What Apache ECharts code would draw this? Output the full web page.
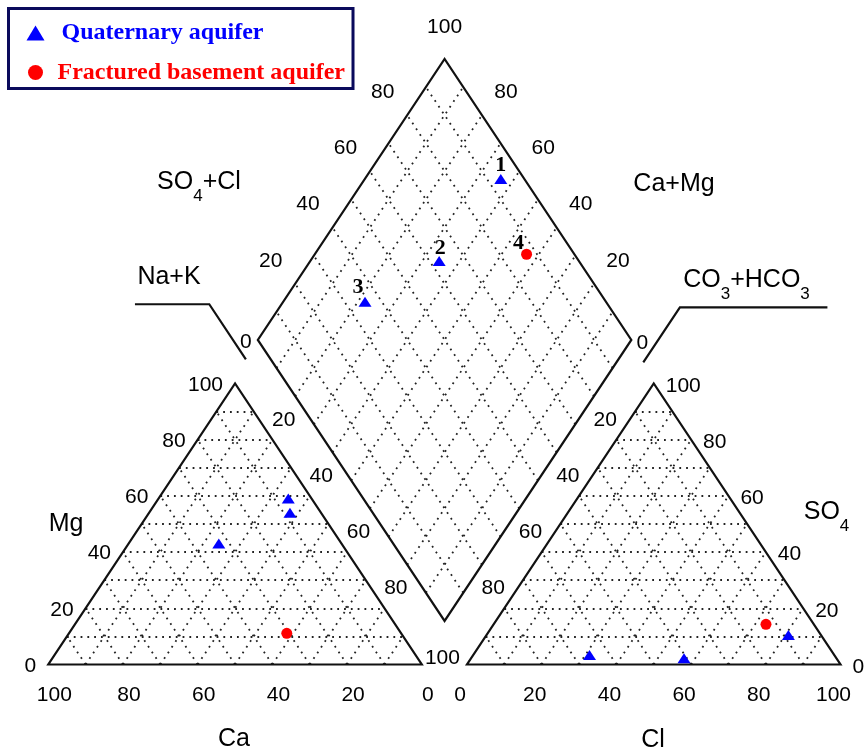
<!DOCTYPE html>
<html>
<head>
<meta charset="utf-8">
<script src="https://cdn.jsdelivr.net/npm/echarts@6/dist/echarts.min.js"></script>
<style>
html, body { margin: 0; padding: 0; background: #fff; }
#main { width: 864px; height: 753px; }
</style>
</head>
<body>
<div id="main"></div>
<script>
// 数据 (%)
var groupNames = ['Quaternary aquifer', 'Fractured basement aquifer'];

// Quaternary aquifer, samples 1-3
var quatIds   = ['1', '2', '3'];
var quatCa    = [8.3, 6.2, 32.8];
var quatMg    = [54.0, 59.1, 43.1];
var quatCl    = [80.8, 57.0, 31.1];
var quatSO4   = [10.5, 2.2, 3.4];
var quatCaMg  = [63.6, 65.5, 78.1];
var quatSO4Cl = [93.7, 62.6, 35.5];

// Fractured basement aquifer, sample 4
var fracIds   = ['4'];
var fracCa    = [30.6];
var fracMg    = [11.1];
var fracCl    = [72.9];
var fracSO4   = [14.3];
var fracCaMg  = [43.3];
var fracSO4Cl = [87.2];

var tickValues = [0, 20, 40, 60, 80, 100];
var gridValues = [10, 20, 30, 40, 50, 60, 70, 80, 90];

// 布局 (units: triangle side = 100)
var PX_X0 = 48.3, PX_X = 3.735, PX_Y0 = 664.5, PX_Y = 2.81;
var RIGHT_X = 112.1;              // anion triangle offset
var DIA_X = 106.1, DIA_Y = 15.5;  // diamond bottom vertex
var quatLabelOffset = [[0, -14], [1, -13], [-7, -14]];
var fracLabelOffset = [[-8, -11]];

function cationXY(ca, mg) { return [100 - ca - mg / 2, mg]; }
function anionXY(cl, so4) { return [RIGHT_X + cl + so4 / 2, so4]; }
function diamondXY(camg, so4cl) { return [DIA_X + (so4cl - camg) / 2, DIA_Y + so4cl + camg]; }
function mid(a, b) { return [(a[0] + b[0]) / 2, (a[1] + b[1]) / 2]; }

// 网格虚线
var dotted = [];
gridValues.forEach(function (g) {
    dotted.push({coords: [cationXY(100 - g, g), cationXY(0, g)]});
    dotted.push({coords: [cationXY(g, 0), cationXY(g, 100 - g)]});
    dotted.push({coords: [cationXY(100 - g, 0), cationXY(0, 100 - g)]});
    dotted.push({coords: [anionXY(0, g), anionXY(100 - g, g)]});
    dotted.push({coords: [anionXY(g, 0), anionXY(g, 100 - g)]});
    dotted.push({coords: [anionXY(100 - g, 0), anionXY(0, 100 - g)]});
    dotted.push({coords: [diamondXY(g, 0), diamondXY(g, 100)]});
    dotted.push({coords: [diamondXY(0, g), diamondXY(100, g)]});
});

// 外框
var outlines = [
    {coords: [cationXY(50, 0), cationXY(0, 0), cationXY(0, 100), cationXY(100, 0), cationXY(50, 0)]},
    {coords: [anionXY(50, 0), anionXY(100, 0), anionXY(0, 100), anionXY(0, 0), anionXY(50, 0)]},
    {coords: [diamondXY(50, 0), diamondXY(100, 0), diamondXY(100, 100), diamondXY(0, 100), diamondXY(0, 0), diamondXY(50, 0)]},
    {coords: [[23.2, 128.2], [43.1, 128.2], [52.9, 108.6]]},
    {coords: [[208.6, 127.1], [169.1, 127.1], [159.3, 107.5]]}
];

// 刻度标签
var tickLabels = [];
function addTick(pos, text, offset, align) {
    tickLabels.push({value: pos, label: {formatter: text, offset: offset, align: align || 'center'}});
}
tickValues.forEach(function (v) {
    addTick(cationXY(v, 0), String(v), [6, 31]);
    addTick(anionXY(v, 0), String(v), [-7, 31]);
    addTick(cationXY(100 - v, v), String(v), [-12, 1.5], 'right');
    addTick(anionXY(100 - v, v), String(v), [12, 2.5], 'left');
    if (v > 0 && v < 100) {
        addTick(mid(cationXY(0, 100 - v), diamondXY(100 - v, 0)), String(v), [0, 2]);
        addTick(mid(anionXY(0, 100 - v), diamondXY(0, 100 - v)), String(v), [0, 2]);
        addTick(diamondXY(100, v), String(v), [-24.5, -23]);
        addTick(diamondXY(v, 100), String(v), [24, -23]);
    }
});
addTick(mid(cationXY(0, 0), anionXY(0, 0)), '100', [-2, -6.5]);
addTick(diamondXY(100, 0), '0', [-12, 2]);
addTick(diamondXY(0, 100), '0', [11, 3]);
addTick(diamondXY(100, 100), '100', [0, -32]);

// 样品点
function buildPoints(ids, ca, mg, cl, so4, camg, so4cl, offsets) {
    var pts = [];
    for (var i = 0; i < ids.length; i++) {
        pts.push(cationXY(ca[i], mg[i]));
        pts.push(anionXY(cl[i], so4[i]));
        pts.push({
            value: diamondXY(camg[i], so4cl[i]),
            label: {show: true, formatter: ids[i], offset: offsets[i]}
        });
    }
    return pts;
}
var quatPoints = buildPoints(quatIds, quatCa, quatMg, quatCl, quatSO4, quatCaMg, quatSO4Cl, quatLabelOffset);
var fracPoints = buildPoints(fracIds, fracCa, fracMg, fracCl, fracSO4, fracCaMg, fracSO4Cl, fracLabelOffset);

var numLabel = {
    show: false, position: 'inside', color: '#000',
    fontFamily: 'Liberation Serif', fontWeight: 'bold', fontSize: 22
};

var txtFont = 'Liberation Sans';
function rich() {
    return {
        m: {fontSize: 25, fontFamily: txtFont, fill: '#000', lineHeight: 30},
        s: {fontSize: 17, fontFamily: txtFont, fill: '#000', lineHeight: 30, padding: [27, 0, 0, 0]}
    };
}
function title(x, y, text) {
    return {type: 'text', x: x, y: y, silent: true,
        style: {text: text, rich: rich(), align: 'center', verticalAlign: 'middle'}};
}

var option = {
    animation: false,
    backgroundColor: '#fff',
    grid: {left: 0, right: 0, top: 0, bottom: 0},
    xAxis: {type: 'value', show: false, min: -PX_X0 / PX_X, max: (864 - PX_X0) / PX_X},
    yAxis: {type: 'value', show: false, min: -(753 - PX_Y0) / PX_Y, max: PX_Y0 / PX_Y},
    legend: {
        data: [
            {name: groupNames[0], icon: 'triangle', textStyle: {color: '#0000ff', padding: [0, 0, 0, 12]}},
            {name: groupNames[1], icon: 'circle', textStyle: {color: '#ff0000', padding: [0, 0, 0, 8]}}
        ],
        orient: 'vertical', left: 8.5, top: 8.5,
        padding: [12.5, 8, 4, 18], itemGap: 15.5, itemWidth: 18, itemHeight: 15,
        borderColor: '#0a0a5c', borderWidth: 3, backgroundColor: '#fff',
        selectedMode: false,
        textStyle: {fontFamily: 'Liberation Serif', fontWeight: 'bold', fontSize: 24}
    },
    graphic: [
        title(199, 182.5, '{m|SO}{s|4}{m|+Cl}'),
        title(674, 184.5, '{m|Ca+Mg}'),
        title(169, 277, '{m|Na+K}'),
        title(746.5, 280.5, '{m|CO}{s|3}{m|+HCO}{s|3}'),
        title(66, 524.5, '{m|Mg}'),
        title(234, 739, '{m|Ca}'),
        title(653, 740, '{m|Cl}'),
        title(826.5, 512.5, '{m|SO}{s|4}')
    ],
    series: [
        {
            type: 'lines', coordinateSystem: 'cartesian2d', silent: true,
            data: dotted,
            lineStyle: {color: '#222', width: 1.8, type: [1.8, 5], opacity: 1}
        },
        {
            type: 'lines', coordinateSystem: 'cartesian2d', polyline: true, silent: true,
            data: outlines,
            lineStyle: {color: '#111', width: 2.2, type: 'solid', join: 'miter', opacity: 1}
        },
        {
            type: 'scatter', silent: true,
            symbol: 'circle', symbolSize: 0.1,
            itemStyle: {color: 'rgba(0,0,0,0)'},
            label: {show: true, position: 'inside', color: '#000', opacity: 1, fontFamily: txtFont, fontSize: 21},
            data: tickLabels
        },
        {
            name: groupNames[0], type: 'scatter',
            symbol: 'triangle', symbolSize: [13, 10],
            itemStyle: {color: '#0000ff', opacity: 1},
            label: numLabel,
            data: quatPoints
        },
        {
            name: groupNames[1], type: 'scatter',
            symbol: 'circle', symbolSize: 11,
            itemStyle: {color: '#ff0000', opacity: 1},
            label: numLabel,
            data: fracPoints
        }
    ]
};

var chart = echarts.init(document.getElementById('main'));
chart.setOption(option);
</script>
</body>
</html>
